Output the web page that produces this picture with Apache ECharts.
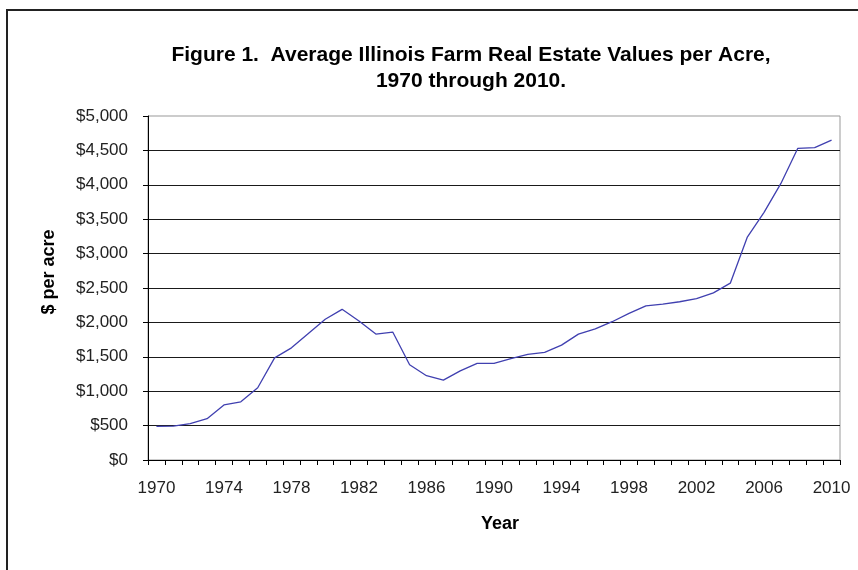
<!DOCTYPE html>
<html>
<head>
<meta charset="utf-8">
<script src="https://cdn.jsdelivr.net/npm/echarts@6/dist/echarts.min.js"></script>
<style>
html,body{margin:0;padding:0;background:#fff;}
#chart{width:858px;height:570px;}
</style>
</head>
<body>
<div id="chart"></div>
<script>
var years = ['1970','1971','1972','1973','1974','1975','1976','1977','1978','1979',
             '1980','1981','1982','1983','1984','1985','1986','1987','1988','1989',
             '1990','1991','1992','1993','1994','1995','1996','1997','1998','1999',
             '2000','2001','2002','2003','2004','2005','2006','2007','2008','2009','2010'];
var valuePerAcre = [490, 492, 530, 600, 800, 845, 1050, 1485, 1630, 1840,
                    2045, 2190, 2020, 1830, 1860, 1385, 1225, 1160, 1295, 1405,
                    1405, 1475, 1535, 1565, 1670, 1830, 1905, 2010, 2130, 2240,
                    2265, 2300, 2345, 2430, 2570, 3235, 3600, 4020, 4530, 4540, 4650];
var titleLines = ['Figure 1.  Average Illinois Farm Real Estate Values per Acre,', '1970 through 2010.'];
var yAxisTitle = '$ per acre';
var xAxisTitle = 'Year';

var chart = echarts.init(document.getElementById('chart'), null, {renderer: 'canvas'});
var FONT = '"Liberation Sans", Arial, sans-serif';
chart.setOption({
  animation: false,
  backgroundColor: '#fff',
  title: {
    text: titleLines.join('\n'),
    left: 471, top: 42, textAlign: 'center', padding: 0,
    textStyle: {fontFamily: FONT, fontSize: 21, fontWeight: 'bold', color: '#000', lineHeight: 26}
  },
  graphic: [{
    type: 'rect', shape: {x: 7, y: 10, width: 870, height: 580},
    style: {fill: null, stroke: '#222', lineWidth: 2}, silent: true
  }, {
    type: 'text', x: 49, y: 272, rotation: Math.PI / 2, silent: true,
    style: {text: yAxisTitle, align: 'center', verticalAlign: 'middle',
      font: 'bold 18px "Liberation Sans", Arial, sans-serif', fill: '#000'}
  }, {
    type: 'text', x: 500, y: 524, silent: true,
    style: {text: xAxisTitle, align: 'center', verticalAlign: 'middle',
      font: 'bold 18px "Liberation Sans", Arial, sans-serif', fill: '#000'}
  }],
  grid: {left: 148, right: 18, top: 116, bottom: 110, show: true, borderColor: '#999', borderWidth: 1, backgroundColor: 'transparent'},
  xAxis: {
    type: 'category', data: years, boundaryGap: true,
    axisLine: {lineStyle: {color: '#000', width: 1}},
    axisTick: {show: true, interval: 0, length: 5, inside: false, lineStyle: {color: '#000'}},
    axisLabel: {interval: 3, margin: 20, fontFamily: FONT, fontSize: 17, color: '#222'},
    splitLine: {show: false}
  },
  yAxis: {
    type: 'value', min: 0, max: 5000, interval: 500,
    axisLine: {show: true, lineStyle: {color: '#000', width: 1}},
    axisTick: {show: true, length: 5, lineStyle: {color: '#000'}},
    axisLabel: {margin: 20, fontFamily: FONT, fontSize: 17, color: '#222',
      formatter: function (v) { return '$' + v.toLocaleString('en-US'); }},
    splitLine: {show: true, showMaxLine: false, lineStyle: {color: '#1a1a1a', width: 1}}
  },
  series: [{
    type: 'line', data: valuePerAcre, symbol: 'none',
    lineStyle: {color: '#4040b0', width: 1.3},
    itemStyle: {color: '#4040b0'}
  }]
});
</script>
</body>
</html>
